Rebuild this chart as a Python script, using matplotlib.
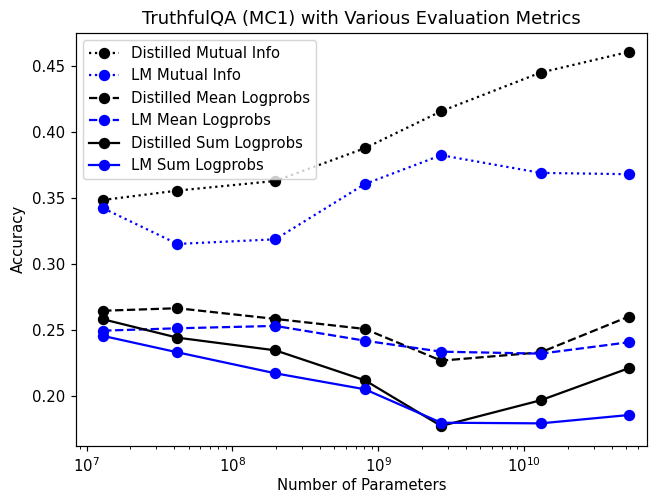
import matplotlib
matplotlib.use('Agg')
import matplotlib.pyplot as plt

# model sizes (number of parameters)
params = [1.3e7, 4.2e7, 1.97e8, 8.1e8, 2.7e9, 1.3e10, 5.2e10]

# accuracies
distilled_mi = [0.3487, 0.3558, 0.3631, 0.3879, 0.4159, 0.4452, 0.4608]
lm_mi = [0.3424, 0.3154, 0.3189, 0.3608, 0.3826, 0.3692, 0.3682]
distilled_mean = [0.2648, 0.2667, 0.2586, 0.2510, 0.2270, 0.2333, 0.2603]
lm_mean = [0.2497, 0.2515, 0.2533, 0.2421, 0.2338, 0.2323, 0.2409]
distilled_sum = [0.2583, 0.2444, 0.2348, 0.2121, 0.1775, 0.1970, 0.2212]
lm_sum = [0.2457, 0.2333, 0.2174, 0.2053, 0.1800, 0.1795, 0.1858]

DPI = 107.5
fig, ax = plt.subplots(figsize=(649 / DPI, 493 / DPI), dpi=DPI)
fig.subplots_adjust(left=0.117, right=0.997, bottom=0.096, top=0.934)

ms = 6.6
ax.plot(params, distilled_mi, 'k:o', ms=ms, label='Distilled Mutual Info')
ax.plot(params, lm_mi, 'b:o', ms=ms, label='LM Mutual Info')
ax.plot(params, distilled_mean, 'k--o', ms=ms, label='Distilled Mean Logprobs')
ax.plot(params, lm_mean, 'b--o', ms=ms, label='LM Mean Logprobs')
ax.plot(params, distilled_sum, 'k-o', ms=ms, label='Distilled Sum Logprobs')
ax.plot(params, lm_sum, 'b-o', ms=ms, label='LM Sum Logprobs')

ax.set_xscale('log')
ax.set_xlim(10**6.927, 10**10.843)
ax.set_ylim(0.1626, 0.4755)
ax.set_xlabel('Number of Parameters', labelpad=2)
ax.set_ylabel('Accuracy')
ax.set_title('TruthfulQA (MC1) with Various Evaluation Metrics')
ax.legend(loc='upper left')

fig.savefig('out.png', dpi=DPI)
